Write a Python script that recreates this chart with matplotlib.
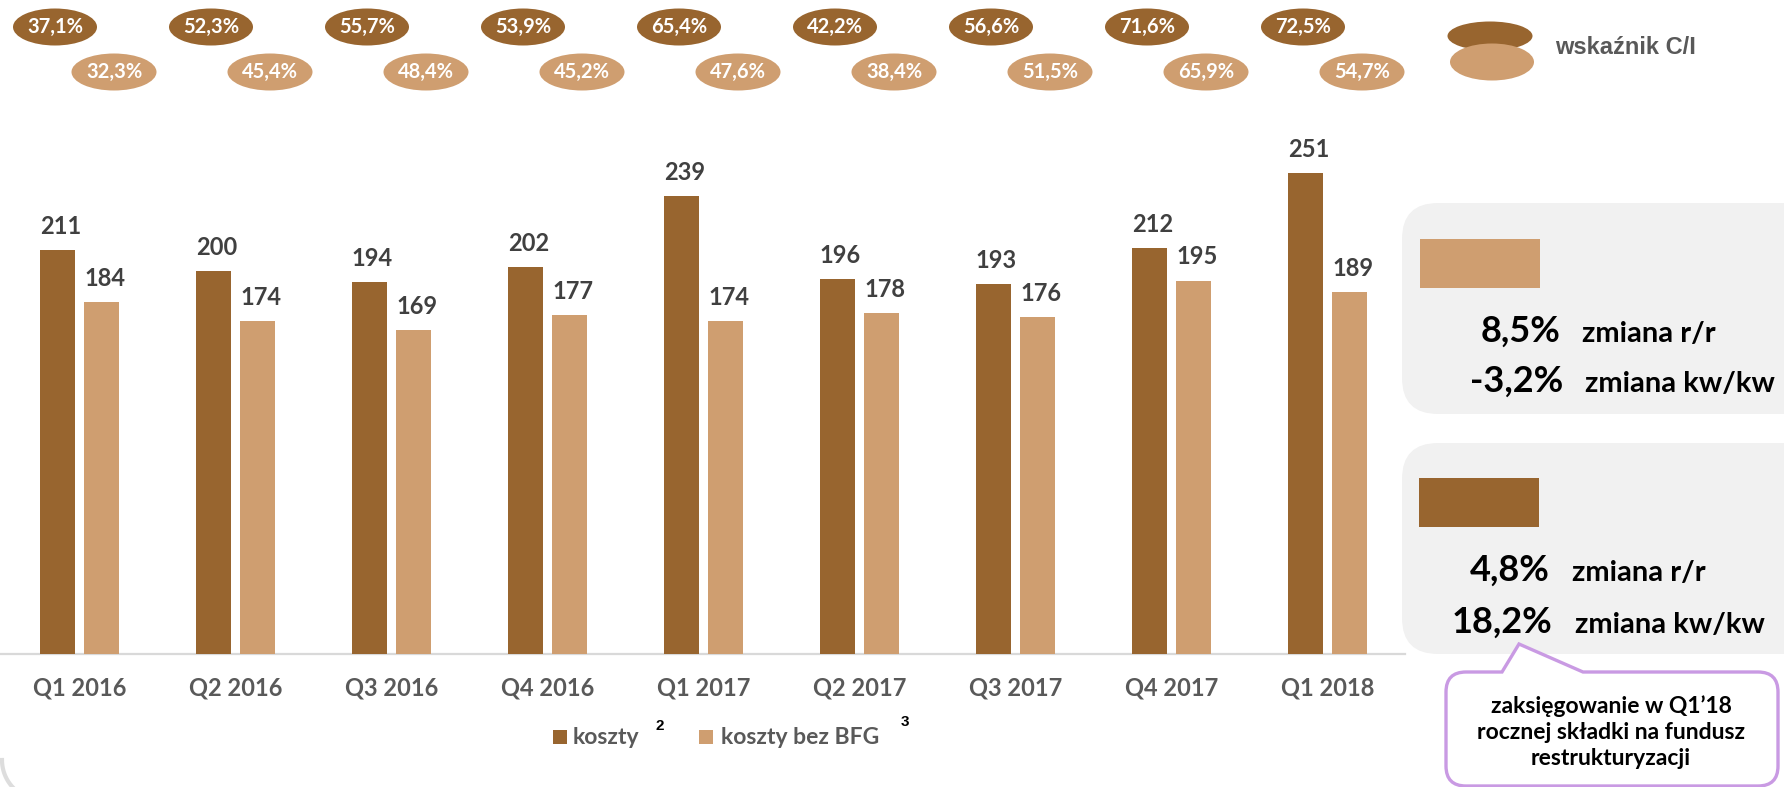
import numpy as np
import matplotlib
matplotlib.use("Agg")
import matplotlib.pyplot as plt
from matplotlib.patches import Ellipse, Rectangle, FancyBboxPatch, PathPatch
from matplotlib.path import Path
from matplotlib.transforms import Affine2D

# ---- data ----
categories = ["Q1 2016", "Q2 2016", "Q3 2016", "Q4 2016", "Q1 2017",
              "Q2 2017", "Q3 2017", "Q4 2017", "Q1 2018"]
koszty = [211, 200, 194, 202, 239, 196, 193, 212, 251]
koszty_bez_bfg = [184, 174, 169, 177, 174, 178, 176, 195, 189]
ci_koszty = ["37,1%", "52,3%", "55,7%", "53,9%", "65,4%", "42,2%", "56,6%", "71,6%", "72,5%"]
ci_bez_bfg = ["32,3%", "45,4%", "48,4%", "45,2%", "47,6%", "38,4%", "51,5%", "65,9%", "54,7%"]
legend_labels = ["koszty", "koszty bez BFG"]
ci_label = "wskaźnik C/I"
panel_bez_bfg = [("8,5%", "zmiana r/r"), ("-3,2%", "zmiana kw/kw")]
panel_koszty = [("4,8%", "zmiana r/r"), ("18,2%", "zmiana kw/kw")]
callout_text = "zaksięgowanie w Q1’18\nrocznej składki na fundusz\nrestrukturyzacji"

DARK = "#98652F"
LIGHT = "#CF9E70"
FONT = "Lato"

W, H = 1784, 787
fig = plt.figure(figsize=(W / 100, H / 100), dpi=100)
fig.patch.set_facecolor("white")
T = Affine2D().scale(1, -1).translate(0, H)  # pixel coords, y from top

# main axes (pixels): x 0..1405, baseline at 654, top at 119
ax_l, ax_r, ax_b, ax_t = 0, 1405, 654, 119
ax = fig.add_axes([ax_l / W, 1 - ax_b / H, (ax_r - ax_l) / W, (ax_b - ax_t) / H])
ax.set_xlim(-80 / 156, (ax_r - 80) / 156)
ax.set_ylim(0, (ax_b - ax_t) / 1.915)

x = np.arange(len(categories))
bw = 35 / 156
off_d, off_l = -0.144, 0.141
ax.bar(x + off_d, koszty, width=bw, color=DARK, zorder=3)
ax.bar(x + off_l, koszty_bez_bfg, width=bw, color=LIGHT, zorder=3)

for xs, vals in ((x + off_d, koszty), (x + off_l, koszty_bez_bfg)):
    for xi, v in zip(xs, vals):
        ax.annotate(str(v), (xi, v), xytext=(2, 17), textcoords="offset points",
                    ha="center", va="center", fontsize=17, fontweight="bold",
                    color="#404040", family=FONT, annotation_clip=False)

for s in ("left", "top", "right"):
    ax.spines[s].set_visible(False)
ax.spines["bottom"].set_color("#D9D9D9")
ax.spines["bottom"].set_linewidth(1.6)
ax.set_yticks([])
ax.set_xticks(x)
ax.set_xticklabels(categories, fontsize=17, fontweight="bold", color="#595959", family=FONT)
ax.tick_params(axis="x", length=0, pad=16)
ax.patch.set_alpha(0)

# C/I ellipses above groups
fig.canvas.draw()
for i in range(len(categories)):
    xd = ax.transData.transform((i - 25 / 156, 0))[0]
    xl = ax.transData.transform((i + 34 / 156, 0))[0]
    fig.add_artist(Ellipse((xd, 27), 84, 37, transform=T, facecolor=DARK, edgecolor="none"))
    fig.add_artist(Ellipse((xl, 72), 85, 37, transform=T, facecolor=LIGHT, edgecolor="none"))
    fig.text(xd, 27, ci_koszty[i], transform=T, ha="center", va="center", color="white",
             fontsize=14.5, fontweight="bold", family=FONT)
    fig.text(xl, 72, ci_bez_bfg[i], transform=T, ha="center", va="center", color="white",
             fontsize=14.5, fontweight="bold", family=FONT)

# C/I legend
fig.add_artist(Ellipse((1490, 36), 85, 29, transform=T, facecolor=DARK, edgecolor="none"))
fig.add_artist(Ellipse((1492, 62), 84, 37, transform=T, facecolor=LIGHT, edgecolor="none"))
fig.text(1555, 48, ci_label, transform=T, ha="left", va="center", color="#595959",
         fontsize=17, fontweight="bold", family="Liberation Sans")

# legend below
fig.add_artist(Rectangle((553, 730), 14, 14, transform=T, facecolor=DARK, edgecolor="none"))
fig.text(573, 738, legend_labels[0], transform=T, ha="left", va="center", color="#595959",
         fontsize=16.5, fontweight="bold", family=FONT)
fig.text(655, 726, "2", transform=T, ha="left", va="center", color="black",
         fontsize=11, fontweight="bold", family="Liberation Sans")
fig.add_artist(Rectangle((699, 730), 14, 14, transform=T, facecolor=LIGHT, edgecolor="none"))
fig.text(721, 738, legend_labels[1], transform=T, ha="left", va="center", color="#595959",
         fontsize=16.5, fontweight="bold", family=FONT)
fig.text(901, 722, "3", transform=T, ha="left", va="center", color="black",
         fontsize=11, fontweight="bold", family="Liberation Sans")

# right panels
for (top, bot) in ((203, 414), (443, 654)):
    fig.add_artist(FancyBboxPatch((1402, top), 500, bot - top, transform=T,
                                  boxstyle="round,pad=0,rounding_size=36",
                                  facecolor="#F1F1F1", edgecolor="none"))
fig.add_artist(Rectangle((1420, 239), 120, 49, transform=T, facecolor=LIGHT, edgecolor="none"))
fig.add_artist(Rectangle((1419, 478), 120, 49, transform=T, facecolor=DARK, edgecolor="none"))

panel_layout = [
    (panel_bez_bfg, [(1561, 1582, 331), (1563, 1585, 381)]),
    (panel_koszty, [(1550, 1572, 570), (1552, 1575, 622)]),
]
for rows, pos in panel_layout:
    for (pct, lab), (xr, xl, yc) in zip(rows, pos):
        fig.text(xr, yc, pct, transform=T, ha="right", va="center", color="black",
                 fontsize=26, fontweight="bold", family=FONT)
        fig.text(xl, yc + 3, lab, transform=T, ha="left", va="center", color="black",
                 fontsize=21, fontweight="bold", family=FONT)

# callout with pointer
L, R, Tp, B, r = 1446, 1778, 672, 786, 20
tip, bl, br = (1519, 644), (1502, Tp), (1583, Tp)
verts = [br, (R - r, Tp), (R, Tp), (R, Tp + r), (R, B - r), (R, B), (R - r, B),
         (L + r, B), (L, B), (L, B - r), (L, Tp + r), (L, Tp), (L + r, Tp),
         bl, tip, br]
codes = [Path.MOVETO, Path.LINETO, Path.CURVE3, Path.CURVE3, Path.LINETO, Path.CURVE3, Path.CURVE3,
         Path.LINETO, Path.CURVE3, Path.CURVE3, Path.LINETO, Path.CURVE3, Path.CURVE3,
         Path.LINETO, Path.LINETO, Path.CLOSEPOLY]
fig.add_artist(PathPatch(Path(verts, codes), transform=T, facecolor="white",
                         edgecolor="#C99AE3", linewidth=2.4, joinstyle="miter"))
fig.text(1611, 732, callout_text, transform=T, ha="center", va="center", color="black",
         fontsize=16.5, fontweight="bold", family=FONT, linespacing=1.3)

# faint outer frame corner
t = np.linspace(0, np.pi / 2, 50)
fig.add_artist(plt.Line2D(42 - 40 * np.cos(t), 760 + 40 * np.sin(t), transform=T,
                          color="#DDDDDD", linewidth=3))

fig.savefig("out.png", dpi=100)
